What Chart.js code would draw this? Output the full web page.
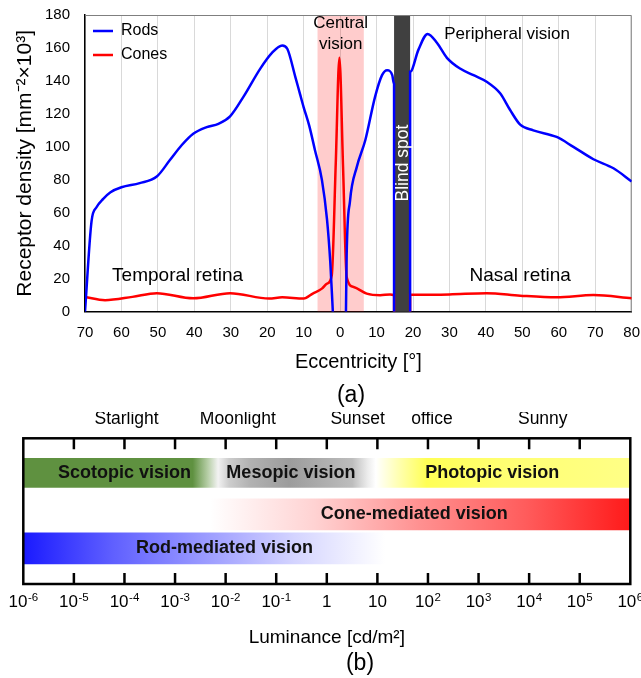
<!DOCTYPE html>
<html>
<head>
<meta charset="utf-8">
<script src="https://cdn.jsdelivr.net/npm/chart.js@4.4.0/dist/chart.umd.min.js"></script>
<style>
html,body{margin:0;padding:0;background:#fff;}
#wrap{position:relative;width:641px;height:678px;overflow:hidden;background:#fff;}
.box{position:absolute;left:0;width:641px;}
</style>
</head>
<body>
<div id="wrap">
  <div class="box" style="top:0;height:412px"><canvas id="chartA"></canvas></div>
  <div class="box" style="top:412px;height:266px"><canvas id="chartB"></canvas></div>
</div>
<script>
// ---------------- Panel (a) data ----------------
const rodsEcc = [-70, -68.2, -66.8, -65, -63, -60, -55, -50.3, -46.7, -43.5, -40.3, -36.6, -33.4, -30.2, -26.5, -21.9, -18.7, -15.9, -14.5, -12.3, -11, -10, -8.5, -6.9, -5, -3.6, -2.7, -2, 0, 1.6, 1.8, 2.7, 4.6, 6.9, 9.6, 11.5, 12.9, 14.3, 14.8, 14.8, 17, 19.2, 19.2, 21.5, 24, 26.6, 29.3, 32.9, 36.6, 40.2, 43.9, 46.6, 49.4, 53, 59.4, 64, 69.5, 75, 80];
const rodsDensity = [0, 55, 63.5, 68.5, 72.5, 75.5, 78, 82, 92, 101, 108, 112, 114, 118.5, 130.5, 147.5, 157, 161.5, 159.5, 142.5, 132, 124, 113, 98, 80, 56, 30, 0, null, 0, 35, 67, 88, 104, 130.5, 143.5, 146.5, 143.5, 138, 0, null, 0, 145.5, 159, 168.5, 163, 154, 147.5, 143.5, 139.5, 132.5, 122.5, 113.5, 110, 106, 100, 92.5, 87, 79];
const conesEcc = [-70, -64.5, -57, -50.3, -40.3, -30.2, -19.5, -15.9, -10, -7.5, -5, -3.6, -2.3, -1.2, -0.2, 0.8, 1.8, 3.7, 7.3, 11, 13.7, 14.8, 14.8, 17, 19.2, 19.2, 30, 40.2, 49.4, 59.4, 69.5, 80];
const conesDensity = [9, 7, 9, 11.2, 8.1, 11.2, 8, 8.7, 8, 11, 14, 17, 22, 90, 154, 88, 21, 15, 11, 10, 10.5, 10, 0, null, 0, 10.3, 10.5, 11.2, 9.7, 8.7, 10.1, 8.1];
const centralVisionRange = [-6.2, 6.5];
const blindSpotRange = [14.8, 19.2];
const regionLabels = ['Temporal retina', 'Nasal retina', 'Peripheral vision', 'Central', 'vision'];
const regionLabelEcc = [-44.6, 49.4, 45.8, 0.14, 0.14];
const regionLabelDensity = [21.7, 21.7, 168.1, 175, 162.4];
const blindSpotLabel = 'Blind spot';
const blindSpotLabelAt = [17.3, 90.2];

// ---------------- Panel (b) data ----------------
const luminanceTicks = [1e-6, 1e-5, 1e-4, 1e-3, 1e-2, 1e-1, 1, 10, 1e2, 1e3, 1e4, 1e5, 1e6];
const luminanceTickBase = ['10', '10', '10', '10', '10', '10', '1', '10', '10', '10', '10', '10', '10'];
const luminanceTickExp = ['-6', '-5', '-4', '-3', '-2', '-1', '', '', '2', '3', '4', '5', '6'];
const bandNames = ['Scotopic vision', 'Mesopic vision', 'Photopic vision', 'Cone-mediated vision', 'Rod-mediated vision'];
const bandStart = [1e-6, 0.00708, 9.33, 0.005, 1e-6];
const bandEnd = [0.00708, 9.33, 1e6, 1e6, 14.1];
const bandRow = [0, 0, 0, 1, 2];
const bandLabelAt = [1e-4, 0.195, 1862, 53.7, 0.0095];
const rowLevels = [2.37, 5.22, 7.56];
const lightingNames = ['Starlight', 'Moonlight', 'Sunset', 'office', 'Sunny'];
const lightingAt = [1.1e-4, 0.0174, 4.07, 120, 18600];

// ---------------- styles ----------------
const FONT = '"Liberation Sans", Arial, Helvetica, sans-serif';
Chart.defaults.font.family = FONT;
Chart.defaults.color = '#000';
const bandStops = [
  [[0, '#5f9140'], [0.87, '#5f9140'], [0.95, '#b9d0aa'], [1, '#f2f2f2']],
  [[0, '#f2f2f2'], [0.07, '#cdcdcd'], [0.2, '#b2b2b2'], [0.45, '#9c9c9c'], [0.7, '#b0b0b0'], [0.85, '#bdbdbd'], [0.95, '#ededed'], [1, '#ffffff']],
  [[0, '#ffffff'], [0.1, '#ffffa8'], [0.2, '#ffff55'], [0.5, '#ffff72'], [1, '#ffff86']],
  [[0, '#ffffff'], [0.25, '#ffd2d2'], [0.5, '#ff9090'], [0.75, '#ff5c5c'], [1, '#ff1a1a']],
  [[0, '#1a1aff'], [0.25, '#6060ff'], [0.5, '#9a9aff'], [0.75, '#d4d4ff'], [1, '#ffffff']]
];
const bandThickness = [29, 31, 31];

function toPoints(xs, ys) { return xs.map((x, i) => ({x: x, y: ys[i]})); }

// ---------------- Panel (a) ----------------
const panelAPlugin = {
  id: 'panelA',
  beforeDatasetsDraw(chart) {
    const {ctx, chartArea: {left, right, top, bottom}, scales: {x}} = chart;
    ctx.save();
    const c0 = x.getPixelForValue(centralVisionRange[0]), c1 = x.getPixelForValue(centralVisionRange[1]);
    ctx.fillStyle = 'rgba(255,0,0,0.2)';
    ctx.fillRect(c0, top, c1 - c0, bottom - top);
    const b0 = x.getPixelForValue(blindSpotRange[0]), b1 = x.getPixelForValue(blindSpotRange[1]);
    ctx.fillStyle = '#404040';
    ctx.fillRect(b0, top, b1 - b0, bottom - top);
    ctx.strokeStyle = '#7f7f7f';
    ctx.lineWidth = 1;
    ctx.beginPath();
    ctx.moveTo(left, top + 0.5);
    ctx.lineTo(right - 0.5, top + 0.5);
    ctx.lineTo(right - 0.5, bottom);
    ctx.stroke();
    ctx.restore();
  },
  afterDatasetsDraw(chart) {
    const {ctx, scales: {x, y}} = chart;
    ctx.save();
    ctx.fillStyle = '#000';
    ctx.textAlign = 'center';
    ctx.textBaseline = 'middle';
    regionLabels.forEach((t, i) => {
      ctx.font = (i < 2 ? '19px ' : '17px ') + FONT;
      ctx.fillText(t, x.getPixelForValue(regionLabelEcc[i]), y.getPixelForValue(regionLabelDensity[i]));
    });
    ctx.translate(x.getPixelForValue(blindSpotLabelAt[0]), y.getPixelForValue(blindSpotLabelAt[1]));
    ctx.rotate(-Math.PI / 2);
    ctx.fillStyle = '#fff';
    ctx.font = '17.5px ' + FONT;
    ctx.fillText(blindSpotLabel, 0, 0);
    ctx.restore();
  },
  afterDraw(chart) {
    const ctx = chart.ctx;
    ctx.save();
    ctx.fillStyle = '#000';
    ctx.font = '23px ' + FONT;
    ctx.textAlign = 'center';
    ctx.textBaseline = 'middle';
    ctx.fillText('(a)', 351, 396);
    ctx.restore();
  }
};

new Chart(document.getElementById('chartA'), {
  type: 'line',
  data: {
    datasets: [
      {label: 'Rods', data: toPoints(rodsEcc, rodsDensity), borderColor: '#0000ff', backgroundColor: '#0000ff',
       borderWidth: 2.5, pointRadius: 0, cubicInterpolationMode: 'monotone', spanGaps: false, fill: false},
      {label: 'Cones', data: toPoints(conesEcc, conesDensity), borderColor: '#ff0000', backgroundColor: '#ff0000',
       borderWidth: 2.5, pointRadius: 0, cubicInterpolationMode: 'monotone', spanGaps: false, fill: false}
    ]
  },
  options: {
    responsive: true,
    maintainAspectRatio: false,
    animation: false,
    layout: {padding: {top: 15, right: 9.3, left: 0, bottom: 0}},
    plugins: {
      tooltip: {enabled: false},
      legend: {
        position: 'chartArea',
        align: 'start',
        title: {display: true, text: '', font: {size: 10}, padding: {top: 3, bottom: 0}},
        labels: {usePointStyle: true, pointStyle: 'line', pointStyleWidth: 20, padding: 8,
                 font: {size: 16, family: FONT}, color: '#000'}
      }
    },
    scales: {
      x: {
        type: 'linear', min: -70, max: 80,
        ticks: {stepSize: 10, callback: v => Math.abs(v), font: {size: 15}, color: '#000', padding: 12, maxRotation: 0, autoSkip: false},
        grid: {color: '#d9d9d9', lineWidth: 1, drawTicks: false},
        border: {color: '#000', width: 1.5},
        title: {display: true, text: 'Eccentricity [°]', font: {size: 20}, color: '#000', padding: {top: 0, bottom: 38}},
        afterFit: s => { s.height = 100.3; s.paddingLeft = 0; s.paddingRight = 0; }
      },
      y: {
        min: 0, max: 180,
        ticks: {stepSize: 20, font: {size: 15}, color: '#000', padding: 15},
        grid: {display: false, drawTicks: false},
        border: {color: '#000', width: 1.5},
        title: {display: true, text: 'Receptor density [mm⁻²×10³]', font: {size: 21}, color: '#000', padding: {top: 12.8, bottom: 0}},
        afterFit: s => { s.width = 85; s.paddingTop = 0; s.paddingBottom = 0; }
      }
    }
  },
  plugins: [panelAPlugin]
});

// ---------------- Panel (b) ----------------
function bandBackground(i) {
  return (c) => {
    const chart = c.chart;
    const xs = chart.scales && chart.scales.x;
    if (!chart.chartArea || !xs) return bandStops[i][0][1];
    const x0 = xs.getPixelForValue(bandStart[i]);
    const x1 = xs.getPixelForValue(bandEnd[i]);
    const g = chart.ctx.createLinearGradient(x0, 0, x1, 0);
    bandStops[i].forEach(s => g.addColorStop(s[0], s[1]));
    return g;
  };
}

const panelBPlugin = {
  id: 'panelB',
  afterDatasetsDraw(chart) {
    const {ctx, chartArea: {left, right, top, bottom}, scales: {x, y}} = chart;
    ctx.save();
    ctx.textAlign = 'center';
    ctx.textBaseline = 'middle';
    ctx.fillStyle = '#111';
    ctx.font = 'bold 18px ' + FONT;
    bandNames.forEach((n, i) => {
      ctx.fillText(n, x.getPixelForValue(bandLabelAt[i]), y.getPixelForValue(rowLevels[bandRow[i]]));
    });
    ctx.strokeStyle = '#000';
    ctx.lineWidth = 2.5;
    ctx.strokeRect(left, top, right - left, bottom - top);
    ctx.beginPath();
    luminanceTicks.slice(1, -1).forEach(v => {
      const px = x.getPixelForValue(v);
      ctx.moveTo(px, top); ctx.lineTo(px, top + 11);
      ctx.moveTo(px, bottom - 11); ctx.lineTo(px, bottom);
    });
    ctx.stroke();
    // tick labels with superscript exponents
    ctx.fillStyle = '#000';
    ctx.textAlign = 'left';
    ctx.textBaseline = 'alphabetic';
    const baseFont = '17px ' + FONT, expFont = '11.5px ' + FONT;
    const yBase = bottom + 22.7;
    luminanceTicks.forEach((v, i) => {
      const px = x.getPixelForValue(v);
      ctx.font = baseFont;
      const wb = ctx.measureText(luminanceTickBase[i]).width;
      ctx.font = expFont;
      const we = luminanceTickExp[i] ? ctx.measureText(luminanceTickExp[i]).width + 0.5 : 0;
      const x0 = px - (wb + we) / 2;
      ctx.font = baseFont;
      ctx.fillText(luminanceTickBase[i], x0, yBase);
      if (luminanceTickExp[i]) {
        ctx.font = expFont;
        ctx.fillText(luminanceTickExp[i], x0 + wb + 0.5, yBase - 6);
      }
    });
    ctx.textAlign = 'center';
    ctx.textBaseline = 'middle';
    ctx.font = '17.5px ' + FONT;
    lightingNames.forEach((n, i) => {
      ctx.fillText(n, x.getPixelForValue(lightingAt[i]), top - 19.3);
    });
    ctx.font = '23px ' + FONT;
    ctx.fillText('(b)', 360, 252);
    ctx.restore();
  }
};

new Chart(document.getElementById('chartB'), {
  type: 'bar',
  data: {
    datasets: bandNames.map((n, i) => ({
      label: n,
      data: [{x: [bandStart[i], bandEnd[i]], y: rowLevels[bandRow[i]]}],
      backgroundColor: bandBackground(i),
      borderWidth: 0,
      borderSkipped: false,
      grouped: false,
      barThickness: bandThickness[bandRow[i]]
    }))
  },
  options: {
    indexAxis: 'y',
    responsive: true,
    maintainAspectRatio: false,
    animation: false,
    layout: {padding: {top: 26.3, left: 23.3, right: 10.7, bottom: 0}},
    plugins: {legend: {display: false}, tooltip: {enabled: false}},
    scales: {
      x: {
        type: 'logarithmic', min: 1e-6, max: 1e6,
        afterBuildTicks: s => { s.ticks = luminanceTicks.map(v => ({value: v})); },
        ticks: {display: false},
        grid: {display: false, drawTicks: false},
        border: {display: false},
        title: {display: true, text: 'Luminance [cd/m²]', font: {size: 19}, color: '#000', padding: {top: 0, bottom: 28.6}},
        afterFit: s => { s.height = 94; s.paddingLeft = 0; s.paddingRight = 0; }
      },
      y: {type: 'linear', min: 0, max: 10, reverse: true, offset: false, display: false}
    }
  },
  plugins: [panelBPlugin]
});
</script>
</body>
</html>
